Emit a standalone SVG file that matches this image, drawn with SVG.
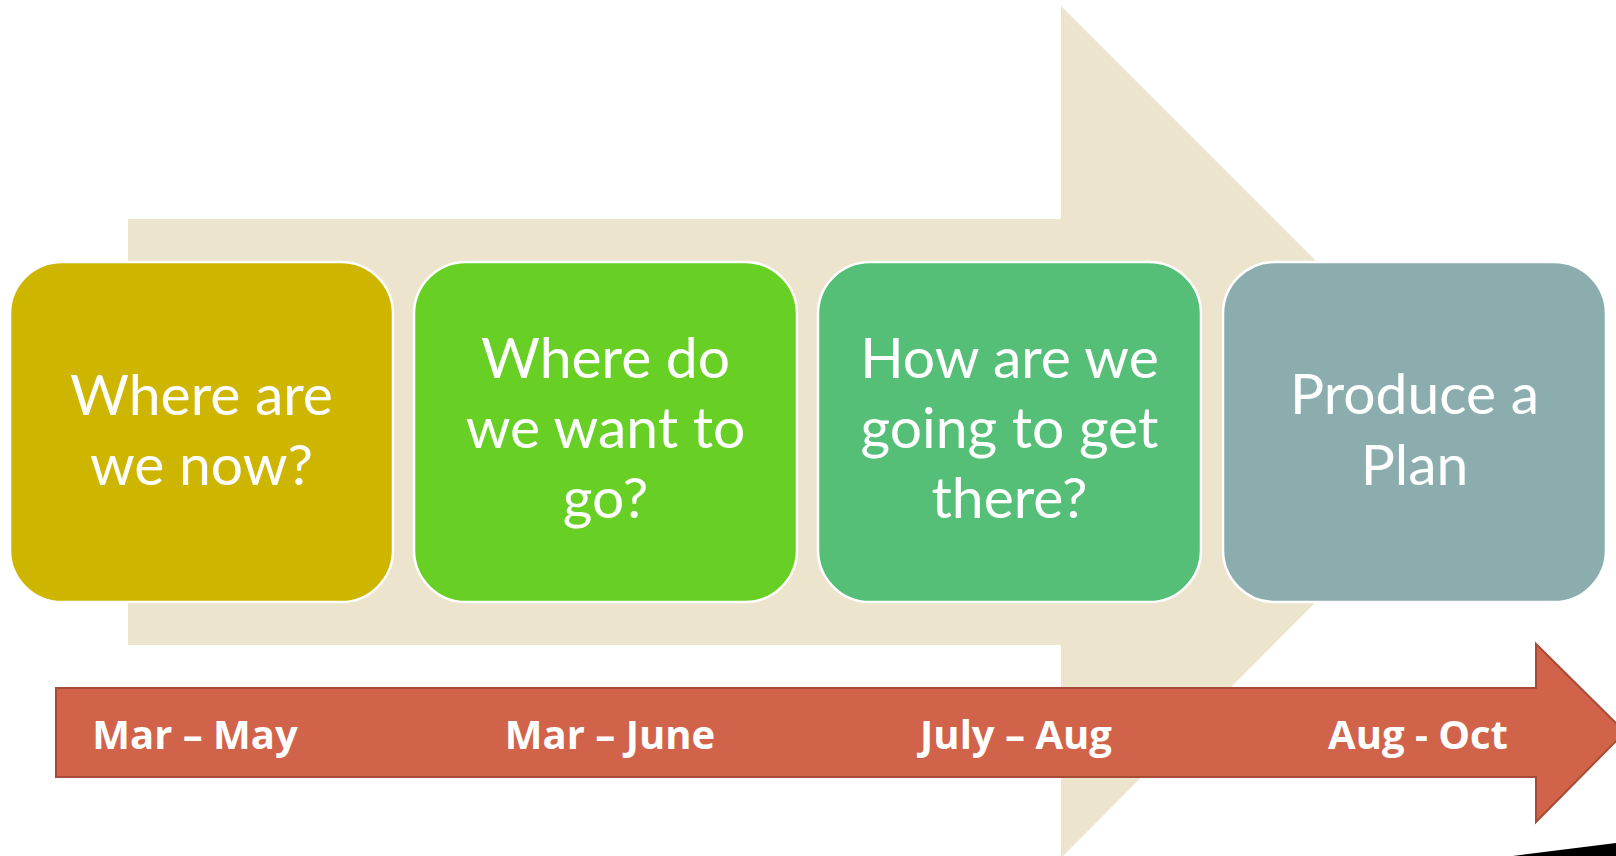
<svg xmlns="http://www.w3.org/2000/svg" width="1616" height="856" viewBox="0 0 1616 856">
  <style>
    .box { stroke: #ffffff; stroke-width: 2.5; }
    .q { font-family: Lato, "Open Sans", sans-serif; font-size: 57px; fill: #ffffff; text-anchor: middle; }
    .d { font-family: "Open Sans", "Noto Sans", sans-serif; font-size: 40px; font-weight: bold; fill: #ffffff; text-anchor: middle; }
  </style>
  <rect width="1616" height="856" fill="#ffffff"/>
  <g id="background-arrow">
    <polygon points="128,219 1061,219 1061,6 1486,431 1061,858 1061,645 128,645" fill="#ECE4CC"/>
  </g>
  <g id="timeline-arrow">
    <polygon points="56,688 1536,688 1536,644 1625,732 1536,822 1536,777 56,777" fill="#D0634A" stroke="#A84B36" stroke-width="2"/>
  </g>
  <g id="shadow-wedge">
    <polygon points="1513,856 1616,843 1616,856" fill="#000000"/>
  </g>
  <g id="node1">
    <rect class="box" x="10" y="262" width="383" height="340" rx="52" ry="52" fill="#CDB500"/>
    <text class="q" x="201.5" y="415">Where are</text>
    <text class="q" x="201.5" y="485">we now?</text>
  </g>
  <g id="node2">
    <rect class="box" x="414" y="262" width="383" height="340" rx="52" ry="52" fill="#68D024"/>
    <text class="q" x="605.5" y="378">Where do</text>
    <text class="q" x="605.5" y="448">we want to</text>
    <text class="q" x="605.5" y="518">go?</text>
  </g>
  <g id="node3">
    <rect class="box" x="818" y="262" width="383" height="340" rx="52" ry="52" fill="#55BF78"/>
    <text class="q" x="1009.5" y="378">How are we</text>
    <text class="q" x="1009.5" y="448">going to get</text>
    <text class="q" x="1009.5" y="518">there?</text>
  </g>
  <g id="node4">
    <rect class="box" x="1223" y="262" width="383" height="340" rx="52" ry="52" fill="#8BADAE"/>
    <text class="q" x="1414.5" y="414">Produce a</text>
    <text class="q" x="1414.5" y="485">Plan</text>
  </g>
  <g id="dates">
    <text class="d" x="195" y="749">Mar – May</text>
    <text class="d" x="610" y="749">Mar – June</text>
    <text class="d" x="1016" y="749">July – Aug</text>
    <text class="d" x="1418" y="749">Aug - Oct</text>
  </g>
  <g id="connectors"></g>
</svg>
